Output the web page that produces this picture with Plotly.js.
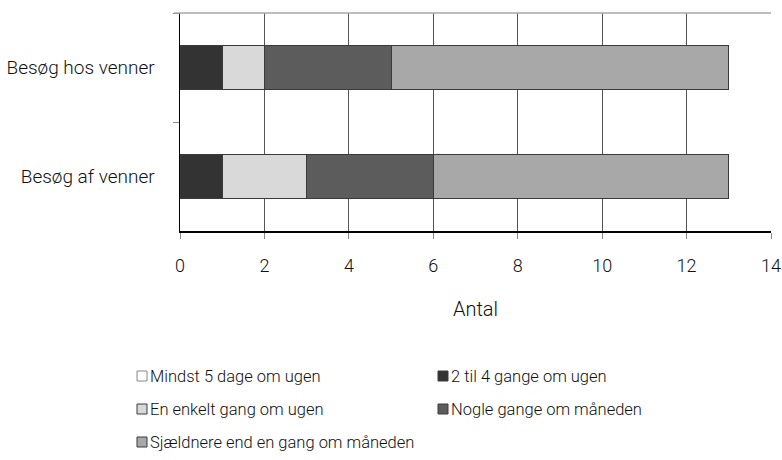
<!DOCTYPE html>
<html>
<head>
<meta charset="utf-8">
<script src="https://cdn.plot.ly/plotly-3.0.1.min.js"></script>
<style>html,body{margin:0;padding:0;background:#fff;}#chart{width:782px;height:460px;}</style>
</head>
<body>
<div id="chart"></div>
<script>
// Categories (top to bottom)
var categories = ["Besøg hos venner", "Besøg af venner"];
// Series names
var seriesNames = [
  "Mindst 5 dage om ugen",
  "2 til 4 gange om ugen",
  "En enkelt gang om ugen",
  "Nogle gange om måneden",
  "Sjældnere end en gang om måneden"
];
// Series values (per category, same order as categories)
var mindst5 = [0, 0];
var to2til4 = [1, 1];
var enEnkelt = [1, 2];
var nogle = [3, 3];
var sjaeldnere = [8, 7];
var seriesValues = [mindst5, to2til4, enEnkelt, nogle, sjaeldnere];
// X tick values
var xTicks = [0, 2, 4, 6, 8, 10, 12, 14];

var fills = ["#ffffff", "#333333", "#d9d9d9", "#5c5c5c", "#a8a8a8"];
var borders = ["#888888", "#3a3a3a", "#3a3a3a", "#3a3a3a", "#3a3a3a"];

var FONT = "Roboto, 'Noto Sans', sans-serif";
var TXT = "#111111";

var traces = seriesNames.map(function (name, i) {
  return {
    type: "bar",
    orientation: "h",
    name: name,
    y: categories,
    x: seriesValues[i],
    marker: { color: fills[i], line: { color: borders[i], width: 1 } },
    showlegend: false,
    hoverinfo: "x+y+name"
  };
});

// plot area pixels
var L = 180, R = 771, T = 13, B = 231, W = 782, H = 460;
function px2x(px) { return (px - L) / (R - L); }
function px2y(py) { return (B - py) / (B - T); }

var shapes = [
  // light top border line
  { type: "line", xref: "paper", yref: "paper", x0: px2x(174), x1: 1, y0: 1, y1: 1,
    line: { color: "#a8a8a8", width: 1.5 } }
];
var annotations = [];
var colX = [137, 438];
var rowY = [376, 409, 442];
seriesNames.forEach(function (name, i) {
  var c = i % 2, r = Math.floor(i / 2);
  var sx = colX[c], sy = rowY[r];
  shapes.push({
    type: "rect", xref: "paper", yref: "paper",
    x0: px2x(sx), x1: px2x(sx + 10), y0: px2y(sy + 5), y1: px2y(sy - 5),
    fillcolor: fills[i], line: { color: borders[i], width: 1 }
  });
  annotations.push({
    xref: "paper", yref: "paper", x: px2x(sx + 11), y: px2y(sy),
    xanchor: "left", yanchor: "middle", showarrow: false,
    text: name, font: { family: FONT, size: 16.5, color: TXT, weight: 300 }
  });
});

var layout = {
  width: W, height: H,
  margin: { l: L, r: W - R, t: T, b: H - B, pad: 0 },
  paper_bgcolor: "#fff", plot_bgcolor: "#fff",
  barmode: "stack",
  bargap: 0.6,
  font: { family: FONT, size: 18, color: TXT, weight: 300 },
  showlegend: false,
  xaxis: {
    range: [0, 14],
    tickvals: xTicks,
    ticktext: xTicks.map(String),
    showgrid: true, gridcolor: "#555555", gridwidth: 1,
    zeroline: false,
    showline: true, linecolor: "#000", linewidth: 1.5,
    ticks: "outside", ticklen: 6, tickcolor: "#888", tickwidth: 1,
    ticklabelstandoff: 12,
    tickfont: { family: FONT, size: 18, color: TXT, weight: 300 },
    title: { text: "Antal", font: { family: FONT, size: 20, color: TXT, weight: 300 }, standoff: 27 },
    automargin: false,
    fixedrange: true
  },
  yaxis: {
    type: "category",
    autorange: "reversed",
    tickson: "boundaries",
    showgrid: false,
    zeroline: false,
    showline: true, linecolor: "#000", linewidth: 1.5,
    ticks: "outside", ticklen: 6, tickcolor: "#888", tickwidth: 1,
    ticklabelstandoff: 20,
    tickfont: { family: FONT, size: 19, color: TXT, weight: 300 },
    automargin: false,
    fixedrange: true
  },
  shapes: shapes,
  annotations: annotations
};

Plotly.newPlot("chart", traces, layout, { displayModeBar: false, staticPlot: true });
</script>
</body>
</html>
